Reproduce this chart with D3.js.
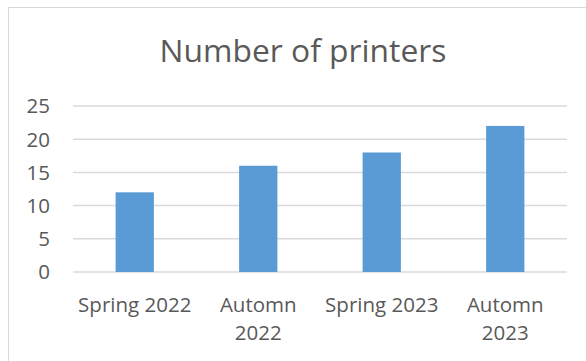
<!DOCTYPE html>
<html>
<head>
<meta charset="utf-8">
<script src="https://cdn.jsdelivr.net/npm/d3@7"></script>
<style>
  body { margin: 0; background: #fff; }
  text { font-family: "Open Sans", sans-serif; fill: #595959; }
</style>
</head>
<body>
<svg id="chart"></svg>
<script>
let seasons = ["Spring 2022", "Automn 2022", "Spring 2023", "Automn 2023"],
  printers = [12, 16, 18, 22],
  y_ticks = [0, 5, 10, 15, 20, 25];

let width = 586,
  height = 361,
  margins = {left: 73, right: 19, top: 106, bottom: 89};

let svg = d3.select("#chart").attr("width", width).attr("height", height);

// chart frame (right and bottom edges fall outside the picture)
svg.append("rect")
  .attr("x", 8.5).attr("y", 7.5)
  .attr("width", width).attr("height", height)
  .attr("fill", "none")
  .attr("stroke", "#d9d9d9");

let x = d3.scaleBand()
  .domain(seasons)
  .range([margins.left, width - margins.right]);
let y = d3.scaleLinear()
  .domain([0, 25])
  .range([height - margins.bottom, margins.top]);

svg.append("text")
  .text("Number of printers")
  .attr("x", 303)
  .attr("y", 62)
  .attr("text-anchor", "middle")
  .style("font-size", "31.8px");

// gridlines
svg.append("g")
  .selectAll("line")
  .data(y_ticks).enter()
  .append("line")
  .attr("x1", margins.left).attr("x2", width - margins.right)
  .attr("y1", d => y(d)).attr("y2", d => y(d))
  .attr("stroke", "#d9d9d9")
  .attr("stroke-width", 1.5);

// y labels
svg.append("g")
  .selectAll("text")
  .data(y_ticks).enter()
  .append("text")
  .text(d => d)
  .attr("x", 50)
  .attr("y", d => y(d))
  .attr("dy", "0.36em")
  .attr("text-anchor", "end")
  .style("font-size", "20.5px");

// bars
let bw = x.bandwidth() * 0.31;
svg.append("g")
  .selectAll("rect")
  .data(seasons).enter()
  .append("rect")
  .attr("x", (d) => x(d) + (x.bandwidth() - bw) / 2)
  .attr("width", bw)
  .attr("y", (d, i) => y(printers[i]))
  .attr("height", (d, i) => y(0) - y(printers[i]))
  .attr("fill", "#5b9bd5");

// x labels, wrapped like the original
let labels = svg.append("g")
  .selectAll("text")
  .data(seasons).enter()
  .append("text")
  .attr("text-anchor", "middle")
  .style("font-size", "20.5px");

labels.each(function(d) {
  let lines = d.startsWith("Automn") ? d.split(" ") : [d];
  d3.select(this).selectAll("tspan")
    .data(lines).enter()
    .append("tspan")
    .attr("x", x(d) + x.bandwidth() / 2)
    .attr("y", (l, i) => 312 + i * 28)
    .text(l => l);
});
</script>
</body>
</html>
